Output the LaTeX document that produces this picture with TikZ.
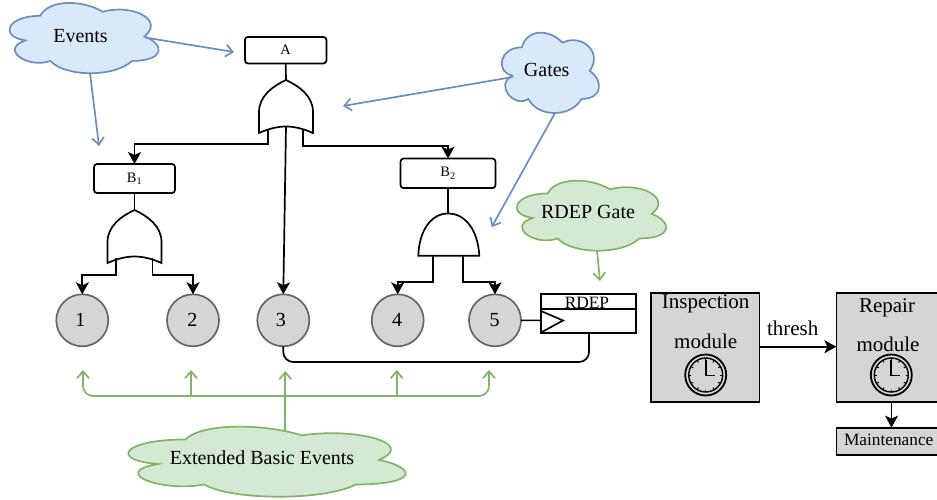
\documentclass[tikz,border=0pt]{standalone}
\usepackage{fontspec}
\setmainfont{Liberation Serif}
\usetikzlibrary{arrows.meta,calc}
\definecolor{bluel}{HTML}{6C8EBF}
\definecolor{bluef}{HTML}{DAE8FC}
\definecolor{greenl}{HTML}{82B366}
\definecolor{greenf}{HTML}{D5E8D4}
\definecolor{grayf}{HTML}{D5D5D5}
\definecolor{grayl}{HTML}{666666}
\tikzset{
  wire/.style={draw=black,line width=1.7pt},
  flow/.style={wire,-{Stealth[length=12pt,width=13pt,inset=3pt]}},
  bluearrow/.style={draw=bluel,line width=1.7pt,-{Straight Barb[length=7pt,width=12pt]}},
  greenarrow/.style={draw=greenl,line width=1.7pt,-{Straight Barb[length=7pt,width=12pt]}},
  greenboth/.style={draw=greenl,line width=1.7pt,rounded corners=10pt,{Straight Barb[length=7pt,width=12pt]}-{Straight Barb[length=7pt,width=12pt]}},
  bluecloud/.style={draw=bluel,fill=bluef,line width=1.7pt},
  greencloud/.style={draw=greenl,fill=greenf,line width=1.7pt},
  evbox/.style={draw=black,fill=white,rounded corners=3pt,line width=1.7pt,inner sep=0pt,outer sep=0pt,font=\fontsize{14.5}{16}\selectfont},
  gatebody/.style={draw=black,fill=white,line width=1.7pt,line join=miter},
  basic/.style={circle,draw=grayl,fill=grayf,line width=1.7pt,minimum size=52pt,inner sep=0pt,outer sep=0pt,font=\fontsize{20}{22}\selectfont},
  module/.style={rectangle,draw=black,fill=grayf,line width=1.7pt,inner sep=0pt,outer sep=0pt},
  label/.style={anchor=base,inner sep=0pt,outer sep=0pt,font=\fontsize{20}{22}\selectfont},
  biglabel/.style={anchor=base,inner sep=0pt,outer sep=0pt,font=\fontsize{21}{23}\selectfont},
  smalllabel/.style={anchor=base,inner sep=0pt,outer sep=0pt,font=\fontsize{17.3}{19}\selectfont},
}
\newcommand{\mycloud}[5]{%
  \path[#5,shift={(#1,#2)},x=#3pt,y=-#4pt]
    (.25,.25) .. controls (.05,.25) and (0,.5) .. (.16,.55)
    .. controls (0,.66) and (.18,.9) .. (.31,.8)
    .. controls (.4,1) and (.7,1) .. (.8,.8)
    .. controls (1,.8) and (1,.6) .. (.875,.5)
    .. controls (1,.3) and (.8,.1) .. (.625,.2)
    .. controls (.5,.05) and (.3,.05) .. (.25,.25) -- cycle;}
\newcommand{\orgate}[2]{%
  \path[gatebody,shift={(#1,#2)}]
    (-27,53) -- (-27,32) .. controls (-27,16) and (-13,6) .. (0,0)
    .. controls (13,6) and (27,16) .. (27,32) -- (27,53)
    .. controls (18,49) and (9,46.5) .. (0,46.5)
    .. controls (-9,46.5) and (-18,49) .. (-27,53) -- cycle;}
\newcommand{\myclock}[2]{%
  \begin{scope}[shift={(#1,#2)}]
    \draw[line width=1.8pt] (0,0) circle (20.5pt);
    \draw[line width=1.4pt] (0,0) circle (17pt);
    \foreach \a in {0,30,...,330}{\draw[line width=1pt] (\a:14.5pt) -- (\a:16.5pt);}
    \draw[line width=1.7pt] (0,-15.5) -- (0,0.5) -- (9,0.5);
  \end{scope}}
\begin{document}
\begin{tikzpicture}[x=1pt,y=-1pt]
\useasboundingbox (0,0) rectangle (937,499);
\clip (0,0) rectangle (937,499);
% coordinates
\coordinate (orAapex) at (286,80);
\coordinate (orAl) at (268,129);
\coordinate (orAr) at (303,129);
\coordinate (orAm) at (286,126.5);
\coordinate (orBapex) at (134.5,210);
\coordinate (orBl) at (116,258);
\coordinate (orBr) at (152.5,258);
\coordinate (andapex) at (448,213.5);
\coordinate (andl) at (433.3,255.7);
\coordinate (andr) at (463.3,255.7);
\coordinate (orAin) at (343,106);
\coordinate (andin) at (491.7,227);
\coordinate (evout1) at (145,37.5);
\coordinate (evout2) at (90,73);
\coordinate (evendA) at (234,52);
\coordinate (evendB) at (99,146);
\coordinate (gaout1) at (513,77);
\coordinate (gaout2) at (555,113);
\coordinate (rdgout) at (597,250.7);
\coordinate (rdgend) at (600,281);
\coordinate (extout) at (285.3,431);
\coordinate (extj) at (285.3,396);
\coordinate (t1) at (83,370);
\coordinate (t2) at (191,370);
\coordinate (t3) at (285.3,371);
\coordinate (t4) at (396.7,370);
\coordinate (t5) at (489,370);
% clouds
\mycloud{-1.3}{-4.7}{166.5}{82}{bluecloud}
\mycloud{494.6}{23.9}{108.7}{93.8}{bluecloud}
\mycloud{505.9}{173}{166.8}{81.8}{greencloud}
\mycloud{108.2}{419}{309.5}{81.8}{greencloud}
\node[label] (lev) at (80.5,42) {Events};
\node[label] (lga) at (546.7,76) {Gates};
\node[label] (lrd) at (588,218.7) {RDEP Gate};
\node[label] (lex) at (262,464.3) {Extended Basic Events};
% events
\node[evbox,minimum width=81.5pt,minimum height=26.5pt] (A) at (285.7,50.2) {A};
\node[evbox,minimum width=81pt,minimum height=29pt] (B1) at (134.5,178.5) {B\textsubscript{1}};
\node[evbox,minimum width=95pt,minimum height=29.5pt] (B2) at (448,173.3) {B\textsubscript{2}};
\node[basic] (e1) at (82.3,320.3) {\hspace{-4pt}\raisebox{1pt}{1}};
\node[basic] (e2) at (193,320.3) {\hspace{-1.5pt}\raisebox{1pt}{2}};
\node[basic] (e3) at (283.3,320.3) {\hspace{-5pt}\raisebox{1pt}{3}};
\node[basic] (e4) at (397.7,320.3) {\hspace{-1pt}\raisebox{1pt}{4}};
\node[basic] (e5) at (495,320.3) {\hspace{-1pt}\raisebox{1pt}{5}};
% gates
\draw[wire] (A.south) -- (orAapex);
\orgate{286}{80}
\draw[wire] (B1.south) -- (orBapex);
\orgate{134.5}{210}
\draw[wire] (B2.south) -- (andapex);
\path[gatebody] (418.3,255.7) .. controls (419,231) and (431,213.5) .. (448,213.5)
  .. controls (466,213.5) and (478,231) .. (479.3,255.7) -- cycle;
% gate connectors
\draw[flow] (orAl) -- ++(0,15) -| (B1.north);
\draw[flow] (orAr) -- ++(0,17) -| (B2.north);
\draw[flow] (orAm) -- (e3.north);
\draw[flow] (orBl) -- ++(0,17) -| (e1.north);
\draw[flow] (orBr) -- ++(0,17) -| (e2.north);
\draw[flow] (andl) -- ++(0,26) -| (e4.north);
\draw[flow] (andr) -- ++(0,26) -| (e5.north);
% RDEP
\node[rectangle,draw=black,fill=white,line width=1.7pt,inner sep=0pt,outer sep=0pt,minimum width=95pt,minimum height=39pt] (R) at (588.5,313.2) {};
\draw[line width=1.7pt] (R.west |- 0,309.3) -- (R.east |- 0,309.3);
\node[smalllabel] (Rl) at (587,308) {RDEP};
\coordinate (tria) at (541,311);
\coordinate (trib) at (563,320.5);
\coordinate (tric) at (541,332.5);
\draw[line width=1.7pt,fill=white] (tria) -- (trib) -- (tric) -- cycle;
\coordinate (Rin) at (541,320.5);
\draw[line width=1.5pt,draw=black] (e5.east) -- (Rin);
\draw[wire,rounded corners=10pt] (R.south -| 589,0) -- (589,362) -- (283.3,362) -- (e3.south);
% modules
\node[module,minimum width=108.3pt,minimum height=108.4pt] (I) at (705.2,347.5) {};
\node[module,minimum width=108.3pt,minimum height=108.4pt] (Rp) at (890.5,347.5) {};
\node[module,minimum width=108.3pt,minimum height=27.3pt] (M) at (890.5,441.3) {};
\node[biglabel] (il1) at (705.7,308.5) {Inspection};
\node[biglabel] (il2) at (705.7,348) {module};
\node[biglabel] (rl1) at (887,312) {Repair};
\node[biglabel] (rl2) at (888,351.3) {module};
\node[smalllabel] (ml) at (888.7,445.3) {Maintenance};
\myclock{705.7}{375}
\myclock{891.3}{375}
\draw[flow] (I.east |- 0,346.7) -- (Rp.west |- 0,346.7);
\node[biglabel] (th) at (792.7,335) {thresh};
\draw[flow] (Rp.south -| 891.5,0) -- (M.north -| 891.5,0);
% pointers
\draw[bluearrow] (evout1) -- (evendA);
\draw[bluearrow] (evout2) -- (evendB);
\draw[bluearrow] (gaout1) -- (orAin);
\draw[bluearrow] (gaout2) -- (andin);
\draw[greenarrow] (rdgout) -- (rdgend);
\draw[greenboth] (t1) -- (t1 |- extj) -- (t5 |- extj) -- (t5);
\draw[greenarrow] (extj -| t2) -- (t2);
\draw[greenarrow] (extj -| t4) -- (t4);
\draw[greenarrow] (extout) -- (t3);
\end{tikzpicture}
\end{document}
